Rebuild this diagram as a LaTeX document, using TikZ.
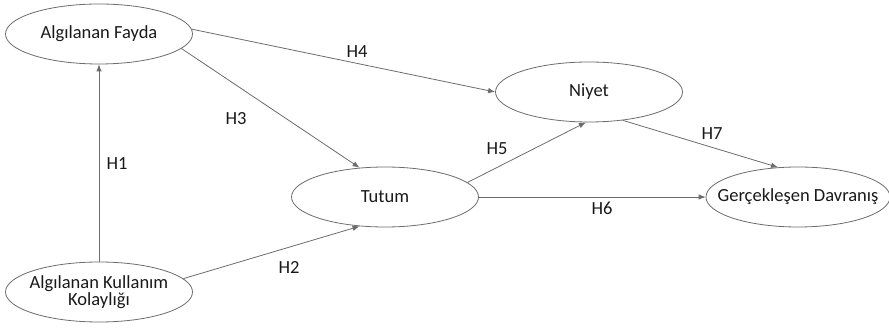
\documentclass[tikz,border=0pt]{standalone}
\usepackage{fontspec}
\setmainfont{Carlito}
\usetikzlibrary{shapes.geometric,arrows.meta}

\begin{document}
\begin{tikzpicture}[x=1pt,y=-1pt,
    font=\fontsize{18.5}{17.5}\selectfont,
    konstrukt/.style={ellipse,draw=gray!85!black,line width=0.8pt,
      minimum width=187pt,minimum height=60pt,inner ysep=0pt,inner xsep=-5pt,
      align=center,text=black!90},
    yol/.style={draw=gray!85!black,line width=0.8pt,
      -{Latex[length=7pt,width=5.5pt]}},
    etiket/.style={text=black!90}]
    \useasboundingbox (0,0) rectangle (889,328);

    \node[konstrukt] (fayda) at (99,34) {Algılanan Fayda};
    \node[konstrukt] (kolay) at (99,292) {Algılanan Kullanım\\Kolaylığı};
    \node[konstrukt] (tutum) at (385,197) {Tutum};
    \node[konstrukt] (niyet) at (589,92) {Niyet};
    \node[konstrukt,minimum width=184pt,inner xsep=-17pt] (davranis) at (798,197) {Gerçekleşen Davranış};

    \node[etiket] (h1) at (117,164) {H1};
    \node[etiket] (h2) at (289,267) {H2};
    \node[etiket] (h3) at (236,119) {H3};
    \node[etiket] (h4) at (357,52) {H4};
    \node[etiket] (h5) at (497,149) {H5};
    \node[etiket] (h6) at (602,208) {H6};
    \node[etiket] (h7) at (712,134) {H7};

    \draw[yol] (kolay.north) -- (fayda.south);
    \draw[yol] (kolay.9) -- (tutum.229);
    \draw[yol] (fayda.-10) -- (tutum.131);
    \draw[yol] (fayda.3) -- (niyet.west);
    \draw[yol] (tutum.10) -- (niyet.264);
    \draw[yol] (tutum.east) -- (davranis.west);
    \draw[yol] (niyet.-40) -- (davranis.124);
  \end{tikzpicture}
\end{document}
